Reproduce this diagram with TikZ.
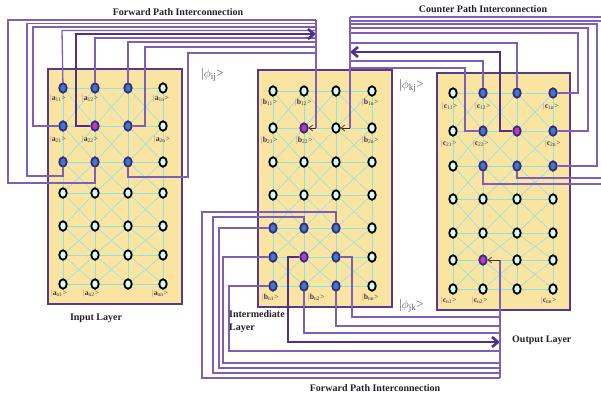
\documentclass[tikz,border=0pt]{standalone}
\usepackage{fontspec}
\setmainfont{Liberation Serif}
\usetikzlibrary{arrows.meta,shapes.geometric}
\definecolor{boxfill}{RGB}{250,228,162}
\definecolor{boxline}{RGB}{88,58,140}
\definecolor{wirec}{RGB}{125,95,185}
\definecolor{twirec}{RGB}{78,48,140}
\definecolor{gridc}{RGB}{135,228,232}
\definecolor{qfill}{RGB}{215,250,250}
\definecolor{qblue}{RGB}{55,125,200}
\definecolor{qmag}{RGB}{185,60,200}
\definecolor{qedge}{RGB}{60,40,125}
\definecolor{barc}{RGB}{185,105,165}
\definecolor{labc}{RGB}{60,50,65}
\definecolor{phic}{RGB}{95,85,115}
\definecolor{ttlc}{RGB}{35,30,45}
\newcommand\qket[2]{{\color{barc}|}\textbf{#1}\textsubscript{#2}>}
\begin{document}
\begin{tikzpicture}[x=1pt,y=-1pt,
  layerbox/.style={draw=boxline,fill=boxfill,line width=2.6pt},
  qn/.style={ellipse,draw=black,fill=qfill,line width=1.8pt,minimum width=7.5pt,minimum height=9.5pt,inner sep=0pt},
  qb/.style={qn,draw=qedge,fill=qblue},
  qm/.style={qn,draw=qedge,fill=qmag},
  gridl/.style={draw=gridc,line width=0.6pt},
  wire/.style={draw=wirec,line width=1.3pt},
  twire/.style={draw=twirec,line width=2.6pt},
  bigarrow/.style={-{Straight Barb[length=6pt,width=10pt]}},
  inarrow/.style={draw=black!80,line width=0.7pt,-{Straight Barb[length=3.5pt,width=6pt]}},
  lab/.style={anchor=west,inner sep=0pt,text=labc,font=\fontsize{7.8}{9}\selectfont},
  phil/.style={anchor=west,inner sep=0pt,text=phic,font=\fontsize{13}{15}\selectfont},
  ttl/.style={inner sep=0pt,text=ttlc,font=\fontsize{10}{13}\selectfont\bfseries}]
\useasboundingbox (0,0) rectangle (601,396);

% layer boxes
\path[layerbox] (48,69) rectangle (182,304);
\path[layerbox] (258,70) rectangle (392,307);
\path[layerbox] (437,73) rectangle (570,310);

% input layer nodes
\foreach \y/\sa/\sb/\sc/\sd [count=\i] in {88/qb/qb/qb/qn,126/qb/qm/qb/qn,162/qb/qb/qb/qn,193/qn/qn/qn/qn,226/qn/qn/qn/qn,255/qn/qn/qn/qn,284/qn/qn/qn/qn}{
  \node[\sa] (a-\i-1) at (63,\y) {};
  \node[\sb] (a-\i-2) at (95,\y) {};
  \node[\sc] (a-\i-3) at (128,\y) {};
  \node[\sd] (a-\i-4) at (163,\y) {};
}
% intermediate layer nodes
\foreach \y/\sa/\sb/\sc/\sd [count=\i] in {91/qn/qn/qn/qn,128/qn/qm/qn/qn,162/qn/qn/qn/qn,195/qn/qn/qn/qn,228/qb/qb/qb/qn,257/qb/qm/qb/qn,286/qb/qb/qb/qn}{
  \node[\sa] (b-\i-1) at (273,\y) {};
  \node[\sb] (b-\i-2) at (304,\y) {};
  \node[\sc] (b-\i-3) at (336,\y) {};
  \node[\sd] (b-\i-4) at (372,\y) {};
}
% output layer nodes
\foreach \y/\sa/\sb/\sc/\sd [count=\i] in {93/qn/qb/qb/qb,131/qn/qb/qm/qb,166/qn/qb/qb/qb,199/qn/qn/qn/qn,233/qn/qn/qn/qn,260/qn/qm/qn/qn,289/qn/qn/qn/qn}{
  \node[\sa] (c-\i-1) at (453,\y) {};
  \node[\sb] (c-\i-2) at (483,\y) {};
  \node[\sc] (c-\i-3) at (517,\y) {};
  \node[\sd] (c-\i-4) at (553,\y) {};
}

% lattice inside each layer
\foreach \L in {a,b,c}{
  \foreach \i in {1,...,7}{
    \foreach \j [evaluate=\j as \k using int(\j+1)] in {1,2,3}{
      \draw[gridl] (\L-\i-\j) -- (\L-\i-\k);
    }
  }
  \foreach \j in {1,...,4}{
    \foreach \i [evaluate=\i as \k using int(\i+1)] in {1,...,6}{
      \draw[gridl] (\L-\i-\j) -- (\L-\k-\j);
    }
  }
  \foreach \i [evaluate=\i as \k using int(\i+1)] in {1,...,6}{
    \foreach \j [evaluate=\j as \m using int(\j+1)] in {1,2,3}{
      \draw[gridl] (\L-\i-\j) -- (\L-\k-\m);
      \draw[gridl] (\L-\i-\m) -- (\L-\k-\j);
    }
  }
}

% bus points
\coordinate (fbus) at (316,20);
\coordinate (fbusend) at (316,128);
\coordinate (cbus) at (350,17);
\coordinate (cbusend) at (350,128);
\coordinate (obus) at (500,378);
\coordinate (obusend) at (500,260);

% forward path: input -> intermediate
\draw[wire] (a-3-2) -- (95,183) -- (8,183) -- (8,20) -- (fbus);
\draw[wire] (a-3-1) -- (63,176) -- (27,176) -- (27,23.5) -- (316,23.5);
\draw[wire] (a-2-1) -- (33,126) -- (33,27) -- (316,27);
\draw[wire] (a-1-1) -- (62,30.5) -- (316,30.5);
\draw[wire] (a-1-2) -- (95,38) -- (316,38);
\draw[wire] (a-1-3) -- (128,42) -- (316,42);
\draw[wire] (a-2-3) -- (145,126) -- (145,47) -- (316,47);
\draw[wire] (a-3-3) -- (128,177) -- (188,177) -- (188,53) -- (316,53);
\draw[twire,bigarrow] (a-2-2) -- (76,126) -- (76,34) -- (316,34);
\draw[wire] (fbus) -- (fbusend);
\draw[inarrow] (fbusend) -- (b-2-2);

% counter path: output -> intermediate
\draw[wire] (cbus) -- (610,17);
\draw[wire] (c-3-2) -- (483,184) -- (610,184);
\draw[wire] (c-3-3) -- (517,178) -- (605,178) -- (605,21) -- (350,21);
\draw[wire] (c-3-4) -- (597,166) -- (597,24) -- (350,24);
\draw[wire] (c-2-4) -- (588,131) -- (588,28) -- (350,28);
\draw[wire] (c-1-4) -- (578,93) -- (578,33) -- (350,33);
\draw[wire] (c-1-3) -- (517,43) -- (350,43);
\draw[wire] (c-1-2) -- (483,61) -- (350,61);
\draw[wire] (c-2-2) -- (465,131) -- (465,68) -- (350,68);
\draw[twire,bigarrow] (c-2-3) -- (500,131) -- (500,52) -- (350,52);
\draw[wire] (cbus) -- (cbusend);
\draw[inarrow] (cbusend) -- (b-2-3);

% forward path: intermediate -> output
\draw[wire] (b-5-3) -- (336,212) -- (202,212) -- (202,378) -- (obus);
\draw[wire] (b-5-2) -- (304,217) -- (213,217) -- (213,373) -- (500,373);
\draw[wire] (b-5-1) -- (219,228) -- (219,368) -- (500,368);
\draw[wire] (b-6-1) -- (223,257) -- (223,363) -- (500,363);
\draw[wire] (b-7-1) -- (229,286) -- (229,351) -- (500,351);
\draw[wire] (b-7-2) -- (304,333) -- (500,333);
\draw[wire] (b-7-3) -- (336,326) -- (500,326);
\draw[wire] (b-6-3) -- (352,257) -- (352,317) -- (500,317);
\draw[twire,bigarrow] (b-6-2) -- (288,257) -- (288,342) -- (500,342);
\draw[wire] (obus) -- (obusend);
\draw[inarrow] (obusend) -- (c-6-2);

% state labels
\node[lab] (la11) at (50,99) {\qket{a}{11}};
\node[lab] (la12) at (82,99) {\qket{a}{12}};
\node[lab] (la1n) at (153,99) {\qket{a}{1n}};
\node[lab] (la21) at (50,140) {\qket{a}{21}};
\node[lab] (la22) at (82,140) {\qket{a}{22}};
\node[lab] (la2n) at (154,140) {\qket{a}{2n}};
\node[lab] (lan1) at (51,294) {\qket{a}{n1}};
\node[lab] (lan2) at (83,294) {\qket{a}{n2}};
\node[lab] (lann) at (152,294) {\qket{a}{nn}};

\node[lab] (lb11) at (261,103) {\qket{b}{11}};
\node[lab] (lb12) at (295,103) {\qket{b}{12}};
\node[lab] (lb1n) at (362,103) {\qket{b}{1n}};
\node[lab] (lb21) at (261,141) {\qket{b}{21}};
\node[lab] (lb22) at (296,141) {\qket{b}{22}};
\node[lab] (lb2n) at (362,141) {\qket{b}{2n}};
\node[lab] (lbn1) at (262,298) {\qket{b}{n1}};
\node[lab] (lbn2) at (308,298) {\qket{b}{n2}};
\node[lab] (lbnn) at (362,298) {\qket{b}{nn}};

\node[lab] (lc11) at (442,107) {\qket{c}{11}};
\node[lab] (lc12) at (475,107) {\qket{c}{12}};
\node[lab] (lc1n) at (543,107) {\qket{c}{1n}};
\node[lab] (lc21) at (441,144) {\qket{c}{21}};
\node[lab] (lc22) at (473,144) {\qket{c}{22}};
\node[lab] (lc2n) at (545,144) {\qket{c}{2n}};
\node[lab] (lcn1) at (441,301) {\qket{c}{n1}};
\node[lab] (lcn2) at (472,301) {\qket{c}{n2}};
\node[lab] (lcnn) at (541,301) {\qket{c}{nn}};

% superposition labels
\node[phil] (phiij) at (201,75) {|$\phi$\textsubscript{ij}>};
\node[phil] (phikj) at (399,86) {|$\phi$\textsubscript{kj}>};
\node[phil] (phijk) at (399,306) {|$\phi$\textsubscript{jk}>};

% titles
\node[ttl] (t1) at (178,12) {Forward Path Interconnection};
\node[ttl] (t2) at (483,9) {Counter Path Interconnection};
\node[ttl] (t3) at (375,388) {Forward Path Interconnection};
\node[ttl] (t4) at (96,318) {Input Layer};
\node[ttl,anchor=north west,align=left] (t5) at (229,310) {Intermediate\\Layer};
\node[ttl,anchor=west] (t6) at (512,340) {Output Layer};
\end{tikzpicture}
\end{document}
